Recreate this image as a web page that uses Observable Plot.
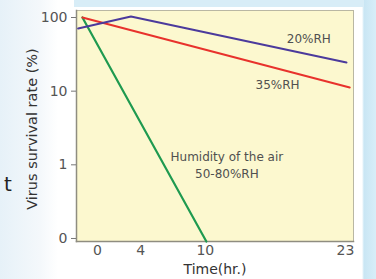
<!DOCTYPE html>
<html>
<head>
<meta charset="utf-8">
<script src="https://cdn.jsdelivr.net/npm/d3@7"></script>
<script src="https://cdn.jsdelivr.net/npm/@observablehq/plot@0.6"></script>
<style>
  html, body { margin: 0; padding: 0; }
  body {
    width: 376px; height: 279px; overflow: hidden; position: relative;
    background: linear-gradient(90deg, #e6f1f8 0px, #f4f8fb 40px, #ffffff 58px, #ffffff 362px, #c9e6f4 364px, #d8eef8 376px);
    font-family: "DejaVu Sans", sans-serif;
  }
  #topband { position: absolute; left: 74px; top: 0; width: 290px; height: 7px; background: #d8edf7; }
  #frag { position: absolute; left: 4px; top: 172px; font-size: 20px; color: #222; font-family: "DejaVu Sans", sans-serif; }
  #chart { position: absolute; left: 0; top: 0; }
  #chart svg { background: transparent !important; }
</style>
</head>
<body>
<div id="topband"></div>
<div id="frag">t</div>
<div id="chart"></div>
<script>
// Data (survival rate in %, log scale; "0" tick stands for 0.1)
const rh20Time = [-1.8, 3.1, 23.1];
const rh20Rate = [71, 103, 24.5];
const rh35Time = [-1.4, 23.4];
const rh35Rate = [100, 11.2];
const rh5080Time = [-1.4, 10.1];
const rh5080Rate = [100, 0.091];

const xTicks = [0, 4, 10, 23];
const yTicks = [0.1, 1, 10, 100];
const yTickLabels = ["0", "1", "10", "100"];

const labelText = ["20%RH", "35%RH", "Humidity of the air\n50-80%RH"];
const labelTime = [19.6, 16.7, 12.0];
const labelRate = [53.5, 12.7, 1.03];

const toRows = (ts, vs) => ts.map((t, i) => ({t, v: vs[i]}));
const labels = labelText.map((s, i) => ({s, t: labelTime[i], v: labelRate[i]}));

const chart = Plot.plot({
  width: 376,
  height: 279,
  marginLeft: 76,
  marginRight: 23,
  marginTop: 10,
  marginBottom: 38,
  style: {background: "transparent", fontFamily: "DejaVu Sans, sans-serif", fontSize: "14px"},
  x: {domain: [-1.95, 23.75], ticks: xTicks, label: null},
  y: {type: "log", domain: [0.091, 124.5], ticks: yTicks, label: null},
  marks: [
    Plot.frame({fill: "#fcf8cf", stroke: "#b9b7a3", strokeWidth: 1}),
    Plot.frame({anchor: "left", stroke: "#8f8d80", strokeWidth: 1.5}),
    Plot.frame({anchor: "bottom", stroke: "#8f8d80", strokeWidth: 1.5}),
    Plot.axisY({ticks: yTicks, tickFormat: (d) => yTickLabels[yTicks.indexOf(d)], tickSize: 5, tickPadding: 4, fontSize: 14, color: "#555", stroke: "#777", label: null}),
    Plot.axisX({ticks: xTicks, tickSize: 0, tickPadding: 4, fontSize: 14, color: "#555", label: null}),
    Plot.line(toRows(rh5080Time, rh5080Rate), {x: "t", y: "v", stroke: "#1f9a50", strokeWidth: 2.2}),
    Plot.line(toRows(rh35Time, rh35Rate), {x: "t", y: "v", stroke: "#e8322c", strokeWidth: 2}),
    Plot.line(toRows(rh20Time, rh20Rate), {x: "t", y: "v", stroke: "#4b3a9c", strokeWidth: 2}),
    Plot.text(labels, {x: "t", y: "v", text: "s", fontSize: 12, fill: "#505050", lineHeight: 1.4}),
    Plot.text(["Virus survival rate (%)"], {frameAnchor: "left", textAnchor: "middle", lineAnchor: "middle", dx: -44, dy: 3, rotate: -90, fontSize: 14.5, fill: "#333", text: (d) => d}),
    Plot.text(["Time(hr.)"], {frameAnchor: "bottom", lineAnchor: "middle", dy: 28, fontSize: 14, fill: "#333", text: (d) => d})
  ]
});
document.getElementById("chart").append(chart);
</script>
</body>
</html>
